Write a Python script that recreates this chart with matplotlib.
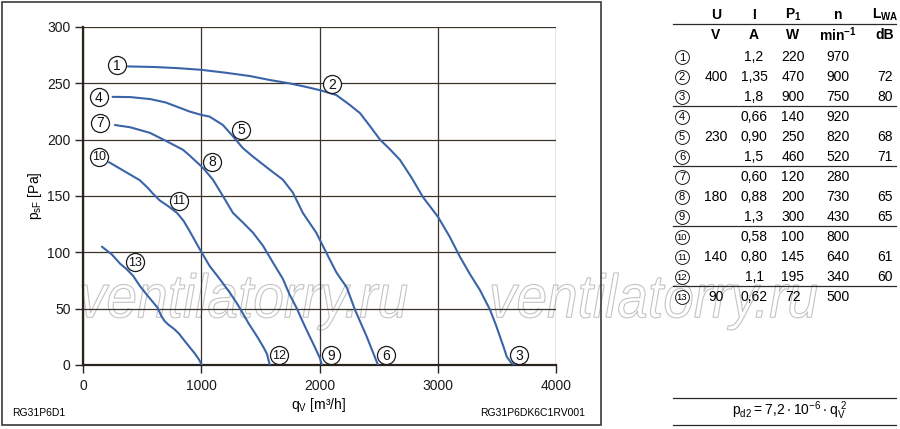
import numpy as np
import matplotlib
matplotlib.use("Agg")
import matplotlib.pyplot as plt
from matplotlib.lines import Line2D
from matplotlib.patches import Rectangle, PathPatch
from matplotlib.textpath import TextPath
from matplotlib.font_manager import FontProperties
from matplotlib.transforms import Affine2D

plt.rcParams['font.family'] = ['Liberation Sans', 'DejaVu Sans']

# fan curves (q_V in m3/h, p_sF in Pa)
qa = [380, 600, 800, 1000, 1200, 1410, 1577, 1746, 1900, 2000, 2141, 2254, 2343, 2420, 2512, 2600, 2681,
      2780, 2875, 3002, 3100, 3188, 3270, 3357, 3442, 3490, 3527, 3560, 3583, 3620, 3653]
pa = [265, 264.5, 263.5, 262, 259.5, 256.5, 253, 250, 246.5, 244, 239.7, 231, 223.5, 213, 200, 191, 182,
      166, 149, 131.5, 114, 96, 81, 66.5, 49, 36, 25, 15, 7.5, 2, 0]

qb = [250, 400, 570, 700, 901, 1000, 1070, 1183, 1268, 1352, 1437, 1577, 1690, 1775, 1859, 1972, 2056,
      2141, 2183, 2230, 2300, 2350, 2400, 2453, 2495]
pb = [238, 237.8, 236, 233, 225, 222, 220.5, 213, 203, 192.5, 185, 173.5, 164.5, 153, 135, 117.5, 100,
      82.5, 76, 69, 49, 37, 25, 11, 0]

qc = [270, 400, 567, 700, 846, 901, 1014, 1099, 1183, 1268, 1352, 1437, 1521, 1606, 1690, 1745, 1807,
      1860, 1905, 1960, 2004, 2020]
pc = [213, 211, 206, 199, 191, 186, 175, 164.5, 150, 135, 126.5, 117.5, 106, 91, 76.5, 63, 50.5,
      38, 28, 16, 6, 0]

qd = [220, 350, 480, 550, 592, 650, 720, 795, 850, 901, 986, 1070, 1155, 1243, 1300, 1340, 1400, 1480,
      1530, 1555, 1580]
pd = [180, 172, 164, 157, 152, 146, 141, 135, 128, 119, 103, 88, 76.5, 64, 55, 48, 37, 24,
      15, 10, 0]

qe = [160, 245, 313, 370, 425, 482, 550, 630, 660, 690, 720, 770, 810, 870, 947, 980, 1005]
pe = [105, 98, 90, 85, 79, 70, 61, 51, 44, 39, 36, 32, 28, 20, 10, 5, 0]

curves = [(qa, pa), (qb, pb), (qc, pc), (qd, pd), (qe, pe)]

# curve marker labels
lab_num = ['1', '2', '3', '4', '5', '6', '7', '8', '9', '10', '11', '12', '13']
lab_q = [287, 2107, 3690, 135, 1340, 2562, 144, 1093, 2095, 135, 812, 1657, 440]
lab_p = [266, 249, 9, 238, 209, 9, 215, 180.5, 9, 185, 146, 9, 91]

# table
tab_U = ['', '400', '', '', '230', '', '', '180', '', '', '140', '', '90']
tab_I = ['1,2', '1,35', '1,8', '0,66', '0,90', '1,5', '0,60', '0,88', '1,3', '0,58', '0,80', '1,1', '0,62']
tab_P = ['220', '470', '900', '140', '250', '460', '120', '200', '300', '100', '145', '195', '72']
tab_n = ['970', '900', '750', '920', '820', '520', '280', '730', '430', '800', '640', '340', '500']
tab_L = ['', '72', '80', '', '68', '71', '', '65', '65', '', '61', '60', '']

W, H = 900, 429
def fx(px):
    return px / W
def fy(py):
    return 1 - py / H

dark = '#2a241c'
blue = '#3b64a8'

fig = plt.figure(figsize=(9, 4.29), dpi=100)
fig.patch.set_facecolor('white')

# watermark
tp = TextPath((0, 0), "ventilatorry.ru", size=50,
              prop=FontProperties(family='Liberation Sans', style='italic'))
ext = tp.get_extents()
for x0 in [82, 492]:
    tr = Affine2D().translate(-ext.x0, -ext.y0).scale(325 / ext.width / W, 57 / ext.height / H) \
        .translate(x0 / W, fy(330)) + fig.transFigure
    fig.add_artist(PathPatch(tp, transform=tr, fc='white', ec='#c4c4c4', lw=0.8, zorder=-1))

ax = fig.add_axes([fx(83), fy(365), fx(556) - fx(83), fy(27) - fy(365)])
ax.patch.set_alpha(0)
for q, p in curves:
    ax.plot(q, p, color=blue, lw=1.5, zorder=3, solid_joinstyle='round', solid_capstyle='round')

ax.plot(lab_q, lab_p, 'o', ms=13, mfc='white', mec='#1a1a1a', mew=0.9, zorder=4, clip_on=False)
for s, q, p in zip(lab_num, lab_q, lab_p):
    ax.text(q, p - 0.6, s, ha='center', va='center', fontsize=10 if len(s) == 1 else 9,
            color='#111111', zorder=5)

ax.set_xlim(0, 4000)
ax.set_ylim(0, 300)
ax.set_xticks([0, 1000, 2000, 3000, 4000])
ax.set_yticks([0, 50, 100, 150, 200, 250, 300])
ax.grid(True, color='#3a342a', lw=0.9)
ax.set_axisbelow(True)
for s in ['top', 'right']:
    ax.spines[s].set_visible(False)
for s in ['left', 'bottom']:
    ax.spines[s].set_linewidth(1.6)
    ax.spines[s].set_color(dark)
ax.tick_params(length=6, width=1, color=dark, labelsize=10, labelcolor='#1a1a1a')
ax.tick_params(axis='y', pad=3)
ax.tick_params(axis='x', pad=4)

fig.text(fx(35), fy(196), r'$\mathregular{p_{sF}}$ [Pa]', rotation=90, ha='center', va='center', fontsize=10)
fig.text(fx(318), fy(405), r'$\mathregular{q_V}$ [m³/h]', ha='center', va='center', fontsize=10)
fig.text(fx(12), fy(413), 'RG31P6D1', ha='left', va='center', fontsize=7.5)
fig.text(fx(585), fy(413), 'RG31P6DK6C1RV001', ha='right', va='center', fontsize=7.5)

# frame around the chart
fig.add_artist(Rectangle((fx(2), fy(425)), fx(601) - fx(2), fy(2) - fy(425), fill=False,
                         ec='#3a3a3a', lw=1.2, transform=fig.transFigure))

# table on the right
cols = [716, 754, 793, 838, 885]
head1 = ['U', 'I', r'$\mathregular{P_1}$', 'n', r'$\mathregular{L_{WA}}$']
head2 = ['V', 'A', 'W', r'$\mathregular{min^{-1}}$', 'dB']
for c, h1, h2 in zip(cols, head1, head2):
    fig.text(fx(c), fy(15), h1, ha='center', va='center', fontsize=10, weight='bold')
    fig.text(fx(c), fy(35), h2, ha='center', va='center', fontsize=10, weight='bold')

for i in range(13):
    yy = 57 + 20 * i
    fig.add_artist(Line2D([fx(682)], [fy(yy)], marker='o', ms=10, mfc='white', mec='#1a1a1a', mew=0.7))
    fig.text(fx(682), fy(yy + 0.5), lab_num[i], ha='center', va='center',
             fontsize=8 if len(lab_num[i]) == 1 else 6.8)
    for c, v in zip(cols, [tab_U[i], tab_I[i], tab_P[i], tab_n[i], tab_L[i]]):
        fig.text(fx(c), fy(yy), v, ha='center', va='center', fontsize=10)

for yl in [24, 106, 166, 226, 286, 398, 425]:
    fig.add_artist(Line2D([fx(673), fx(896)], [fy(yl), fy(yl)], lw=0.9, color='#2a2a2a'))

fig.text(fx(790), fy(411), r'$\mathregular{p_{d2} = 7{,}2 \cdot 10^{-6} \cdot q_V^{\ 2}}$',
         ha='center', va='center', fontsize=10)

fig.savefig('out.png', dpi=100)
